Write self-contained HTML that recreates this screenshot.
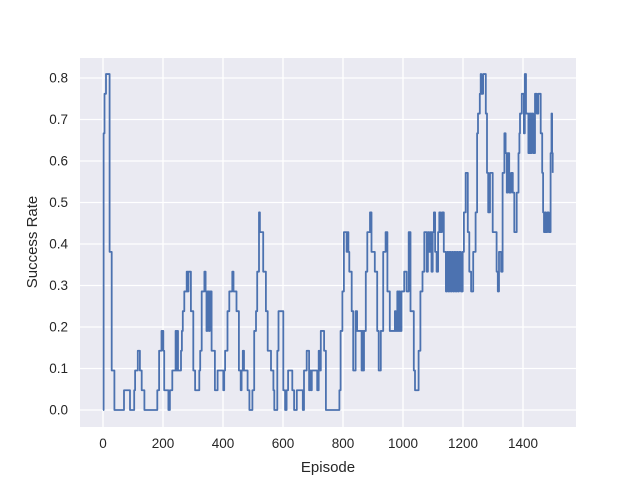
<!DOCTYPE html>
<html><head><meta charset="utf-8"><style>
body{margin:0;background:#fff;}
svg text{font-family:"Liberation Sans","DejaVu Sans",sans-serif;fill:#262626;}
</style></head><body>
<svg id="chart" width="640" height="480" viewBox="0 0 640 480">
<rect x="80" y="58" width="496" height="369" fill="#eaeaf2"/>
<g id="grid"></g><g id="ticks"></g><path id="line" fill="none" stroke="#4c72b0" stroke-width="1.8" stroke-linejoin="round"/>
<text x="328" y="472" text-anchor="middle" font-size="15">Episode</text>
<text transform="translate(37,242) rotate(-90)" text-anchor="middle" font-size="15">Success Rate</text>
</svg>
<script>
const xTicks=[0,200,400,600,800,1000,1200,1400];
const yTicks=[0,0.1,0.2,0.3,0.4,0.5,0.6,0.7,0.8];
const episodes=[0,2,5,10,17,22,29,38,42,70,90,104,107,116,123,129,138,181,187,195,201,204,218,223,231,242,245,248,250,260,263,266,271,279,282,285,288,293,301,307,321,324,329,338,342,345,348,353,356,362,373,382,401,404,407,415,421,431,435,440,445,453,459,462,466,470,482,488,498,504,510,514,520,523,525,534,543,549,560,568,571,581,585,601,607,612,617,631,637,646,666,670,679,687,690,693,696,701,714,719,722,726,737,743,788,792,798,803,812,815,818,821,829,834,842,847,862,865,868,870,876,881,890,895,906,914,919,926,934,942,948,956,973,976,981,984,987,990,995,1004,1012,1019,1025,1036,1040,1052,1058,1065,1071,1079,1083,1087,1091,1095,1099,1103,1107,1112,1117,1121,1125,1130,1136,1143,1147,1151,1155,1159,1163,1167,1171,1175,1179,1183,1187,1193,1199,1203,1209,1216,1221,1227,1234,1242,1247,1250,1256,1259,1261,1267,1276,1280,1284,1290,1299,1307,1312,1316,1320,1327,1332,1338,1342,1346,1349,1354,1360,1366,1371,1379,1385,1388,1390,1396,1403,1406,1410,1418,1422,1426,1429,1434,1440,1446,1451,1459,1464,1467,1470,1473,1476,1481,1486,1492,1495,1497,1499];
const counts=[0,14,16,17,17,8,2,0,0,1,0,1,2,3,2,1,0,1,3,4,3,1,0,1,2,4,2,4,2,3,4,5,6,7,6,7,7,5,2,1,2,3,6,7,6,4,6,4,6,3,1,2,1,2,3,5,6,7,6,6,5,2,1,2,3,2,1,0,1,4,5,7,10,9,9,7,5,3,2,1,0,3,5,1,0,1,2,1,0,1,0,2,3,1,2,1,2,2,1,3,2,4,3,0,1,4,6,9,8,9,8,7,5,2,5,4,2,4,2,4,7,9,10,8,7,4,2,4,8,9,6,4,5,4,6,4,6,4,6,7,6,9,5,2,1,3,6,7,9,7,9,8,9,7,9,10,8,7,9,10,9,10,8,6,8,6,8,6,8,6,8,6,8,6,8,6,8,10,12,9,7,6,8,10,14,15,16,17,16,17,15,12,10,12,9,9,7,6,8,7,12,14,13,11,13,11,12,11,9,11,13,14,15,16,14,17,15,13,15,13,15,13,16,15,16,14,12,10,9,10,9,10,9,13,15,13,12,12];
const X0=80,X1=576,Y0=427,Y1=58;
const xs=e=>103+0.3*e;
const ys=v=>410-v*415;
const NS="http://www.w3.org/2000/svg";
const grid=document.getElementById('grid'),ticks=document.getElementById('ticks');
xTicks.forEach(t=>{
 const l=document.createElementNS(NS,'line');
 
 
 l.setAttribute('x1',xs(t));l.setAttribute('x2',xs(t));l.setAttribute('y1',Y1);l.setAttribute('y2',Y0);
 l.setAttribute('stroke','#fff');l.setAttribute('stroke-width','1.3');grid.appendChild(l);
 const tx=document.createElementNS(NS,'text');
 
 
 tx.setAttribute('x',xs(t));tx.setAttribute('y',448);tx.setAttribute('text-anchor','middle');tx.setAttribute('font-size','13.5');
 tx.textContent=t;ticks.appendChild(tx);
});
yTicks.forEach(t=>{
 const l=document.createElementNS(NS,'line');
 
 
 l.setAttribute('x1',X0);l.setAttribute('x2',X1);l.setAttribute('y1',ys(t));l.setAttribute('y2',ys(t));
 l.setAttribute('stroke','#fff');l.setAttribute('stroke-width','1.3');grid.appendChild(l);
 const tx=document.createElementNS(NS,'text');
 
 
 tx.setAttribute('x',68);tx.setAttribute('y',ys(t)+4.5);tx.setAttribute('text-anchor','end');tx.setAttribute('font-size','13.5');
 tx.textContent=t.toFixed(1);ticks.appendChild(tx);
});
let d='';
episodes.forEach((e,i)=>{
 const v=counts[i]/21;
 if(i===0) d+='M'+xs(e)+','+ys(v);
 else { d+='L'+xs(e)+','+ys(counts[i-1]/21)+'L'+xs(e)+','+ys(v); }
});
document.getElementById('line').setAttribute('d',d);
</script>
</body></html>
